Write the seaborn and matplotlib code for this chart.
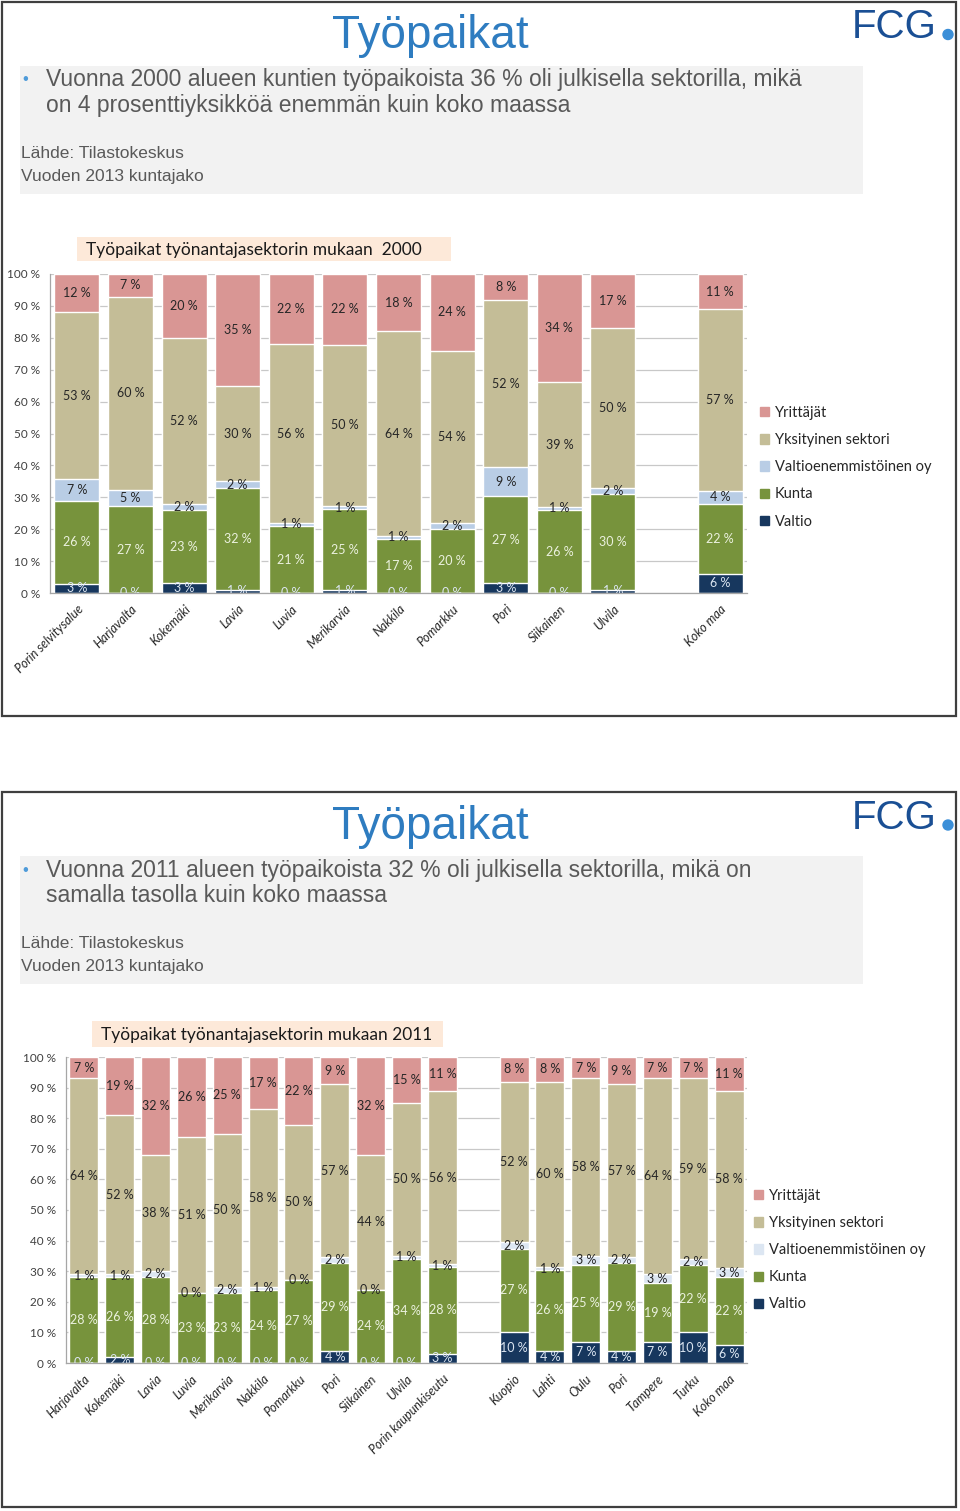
"""Työpaikat työnantajasektorin mukaan 2000 ja 2011"""
import numpy as np
import pandas as pd
import seaborn as sns
import matplotlib.pyplot as plt
from matplotlib.patches import Rectangle, Patch, Circle

# sektorit alhaalta ylös
SEKTORIT = ['Valtio', 'Kunta', 'Valtioenemmistöinen oy', 'Yksityinen sektori', 'Yrittäjät']

# vuosi 2000 ('' = tyhjä väli)
KUNNAT_2000 = ['Porin selvitysalue', 'Harjavalta', 'Kokemäki', 'Lavia', 'Luvia', 'Merikarvia',
               'Nakkila', 'Pomarkku', 'Pori', 'Siikainen', 'Ulvila', '', 'Koko maa']
VALTIO_2000 = [3, 0, 3, 1, 0, 1, 0, 0, 3, 0, 1, None, 6]
KUNTA_2000 = [26, 27, 23, 32, 21, 25, 17, 20, 27, 26, 30, None, 22]
VALTIOENEMM_2000 = [7, 5, 2, 2, 1, 1, 1, 2, 9, 1, 2, None, 4]
YKSITYINEN_2000 = [53, 60, 52, 30, 56, 50, 64, 54, 52, 39, 50, None, 57]
YRITTAJAT_2000 = [12, 7, 20, 35, 22, 22, 18, 24, 8, 34, 17, None, 11]

# vuosi 2011
KUNNAT_2011 = ['Harjavalta', 'Kokemäki', 'Lavia', 'Luvia', 'Merikarvia', 'Nakkila', 'Pomarkku',
               'Pori', 'Siikainen', 'Ulvila', 'Porin kaupunkiseutu', '', 'Kuopio', 'Lahti',
               'Oulu', 'Pori', 'Tampere', 'Turku', 'Koko maa']
VALTIO_2011 = [0, 2, 0, 0, 0, 0, 0, 4, 0, 0, 3, None, 10, 4, 7, 4, 7, 10, 6]
KUNTA_2011 = [28, 26, 28, 23, 23, 24, 27, 29, 24, 34, 28, None, 27, 26, 25, 29, 19, 22, 22]
VALTIOENEMM_2011 = [1, 1, 2, 0, 2, 1, 0, 2, 0, 1, 1, None, 2, 1, 3, 2, 3, 2, 3]
YKSITYINEN_2011 = [64, 52, 38, 51, 50, 58, 50, 57, 44, 50, 56, None, 52, 60, 58, 57, 64, 59, 58]
YRITTAJAT_2011 = [7, 19, 32, 26, 25, 17, 22, 9, 32, 15, 11, None, 8, 8, 7, 9, 7, 7, 11]

VARIT = ['#17375E', '#77933C', '#B9CDE5', '#C4BD97', '#D99694']
VARIT_2011 = ['#17375E', '#77933C', '#DCE6F2', '#C4BD97', '#D99694']
TEKSTIVARIT = ['#DCE6F2', '#EBF1DE', '#262626', '#262626', '#262626']

W, H = 960, 1511
sns.set_style('white')
plt.rcParams['font.family'] = ['Lato', 'DejaVu Sans']

fig = plt.figure(figsize=(W / 100, H / 100), dpi=100)
bg = fig.add_axes([0, 0, 1, 1])
bg.set_xlim(0, W)
bg.set_ylim(H, 0)
bg.axis('off')

ARIAL = ['Liberation Sans', 'DejaVu Sans']


def dia(y0, korkeus, rivit, kaavio_otsikko, otsikko_laatikko):
    """Dian kehys, otsikko ja tekstit"""
    bg.add_patch(Rectangle((1.5, y0), 954, korkeus, fill=False, ec='#3F3F3F', lw=1.6))
    bg.text(430, y0 + 35, 'Työpaikat', ha='center', va='center', fontsize=33,
            color='#2E7CC0', family=ARIAL)
    bg.text(852, y0 + 26, 'FCG', ha='left', va='center', fontsize=29,
            color='#1A4F94', family=ARIAL)
    bg.add_patch(Circle((948, y0 + 33), 5, color='#3B8FD8'))
    bg.add_patch(Rectangle((20, y0 + 64), 843, 128, fc='#F2F2F2', ec='none'))
    bg.text(22, y0 + 78, '•', ha='left', va='center', fontsize=12, color='#4F9BD9', family=ARIAL)
    bg.text(46, y0 + 78, rivit[0], ha='left', va='center', fontsize=16.5, color='#595959', family=ARIAL)
    bg.text(46, y0 + 104, rivit[1], ha='left', va='center', fontsize=16.5, color='#595959', family=ARIAL)
    bg.text(21, y0 + 152, 'Lähde: Tilastokeskus', ha='left', va='center', fontsize=12.5,
            color='#595959', family=ARIAL)
    bg.text(21, y0 + 175, 'Vuoden 2013 kuntajako', ha='left', va='center', fontsize=12.5,
            color='#595959', family=ARIAL)
    x, y, w, h = otsikko_laatikko
    bg.add_patch(Rectangle((x, y), w, h, fc='#FDE9D9', ec='none'))
    bg.text(x + 9, y + h / 2 + 1, kaavio_otsikko, ha='left', va='center', fontsize=12.5, color='#1A1A1A')


def piirra(rect, kunnat, kerrokset, varit, leveys, legend_xy):
    """100 % pinottu pylväskaavio"""
    left, top, right, bottom = rect
    ax = fig.add_axes([left / W, 1 - bottom / H, (right - left) / W, (bottom - top) / H])

    df = pd.DataFrame({s: arr for s, arr in zip(SEKTORIT, kerrokset)}, dtype=float)
    df['id'] = [f'k{i:02d}' for i in range(len(kunnat))]
    order = list(df['id'])
    df = df.dropna()
    osuus = df[SEKTORIT].div(df[SEKTORIT].sum(axis=1), axis=0) * 100
    cum = osuus.cumsum(axis=1)

    for k in reversed(range(len(SEKTORIT))):
        d = pd.DataFrame({'id': df['id'], 'y': cum[SEKTORIT[k]]})
        sns.barplot(data=d, x='id', y='y', order=order, color=varit[k], saturation=1,
                    width=leveys, errorbar=None, ax=ax, zorder=2)

    pos = {key: j for j, key in enumerate(order)}
    for idx, row in df.iterrows():
        ala = 0
        for k, s in enumerate(SEKTORIT):
            h = osuus.loc[idx, s]
            ax.text(pos[row['id']], ala + h / 2, f'{int(row[s])} %', ha='center', va='center',
                    fontsize=9, color=TEKSTIVARIT[k], clip_on=True, zorder=3)
            ala += h

    n = len(order)
    ax.set_xlim(-0.5, n - 0.5)
    ax.set_ylim(0, 100)
    ax.set_yticks(np.arange(0, 101, 10))
    ax.set_yticklabels([f'{t} %' for t in range(0, 101, 10)], fontsize=8.5, color='#404040')
    ax.set_xticks(range(n))
    ax.set_xticklabels(kunnat, rotation=45, ha='right', rotation_mode='anchor',
                       fontsize=9, style='italic', color='#262626')
    ax.set_xticks(np.arange(-0.5, n), minor=True)
    ax.tick_params(axis='x', which='major', length=0, pad=7)
    ax.tick_params(axis='x', which='minor', length=4, color='#A6A6A6', direction='out')
    ax.tick_params(axis='y', length=4, color='#A6A6A6', direction='out', pad=3)
    ax.set_xlabel('')
    ax.set_ylabel('')
    ax.yaxis.grid(True, color='#C8C8C8', lw=0.9)
    ax.set_axisbelow(True)
    for sp in ['top', 'right']:
        ax.spines[sp].set_visible(False)
    for sp in ['left', 'bottom']:
        ax.spines[sp].set_color('#A6A6A6')
        ax.spines[sp].set_linewidth(0.9)

    handles = [Patch(color=varit[k]) for k in reversed(range(len(SEKTORIT)))]
    ax.legend(handles, list(reversed(SEKTORIT)), loc='upper left',
              bbox_to_anchor=(legend_xy[0] / W, 1 - legend_xy[1] / H), bbox_transform=fig.transFigure,
              frameon=False, fontsize=10.5, handlelength=0.6, handleheight=0.6,
              handletextpad=0.4, labelspacing=0.9, borderpad=0, borderaxespad=0)
    return ax


dia(1.5, 714, ['Vuonna 2000 alueen kuntien työpaikoista 36 % oli julkisella sektorilla, mikä',
               'on 4 prosenttiyksikköä enemmän kuin koko maassa'],
    'Työpaikat työnantajasektorin mukaan  2000', (77, 237, 374, 24))
piirra((50, 274, 747, 593), KUNNAT_2000,
       [VALTIO_2000, KUNTA_2000, VALTIOENEMM_2000, YKSITYINEN_2000, YRITTAJAT_2000],
       VARIT, 0.84, (760, 406))

dia(792, 715, ['Vuonna 2011 alueen työpaikoista 32 % oli julkisella sektorilla, mikä on',
               'samalla tasolla kuin koko maassa'],
    'Työpaikat työnantajasektorin mukaan 2011', (92, 1021, 351, 26))
piirra((66, 1057, 747, 1363), KUNNAT_2011,
       [VALTIO_2011, KUNTA_2011, VALTIOENEMM_2011, YKSITYINEN_2011, YRITTAJAT_2011],
       VARIT_2011, 0.81, (754, 1189))

fig.savefig('out.png', dpi=100)
